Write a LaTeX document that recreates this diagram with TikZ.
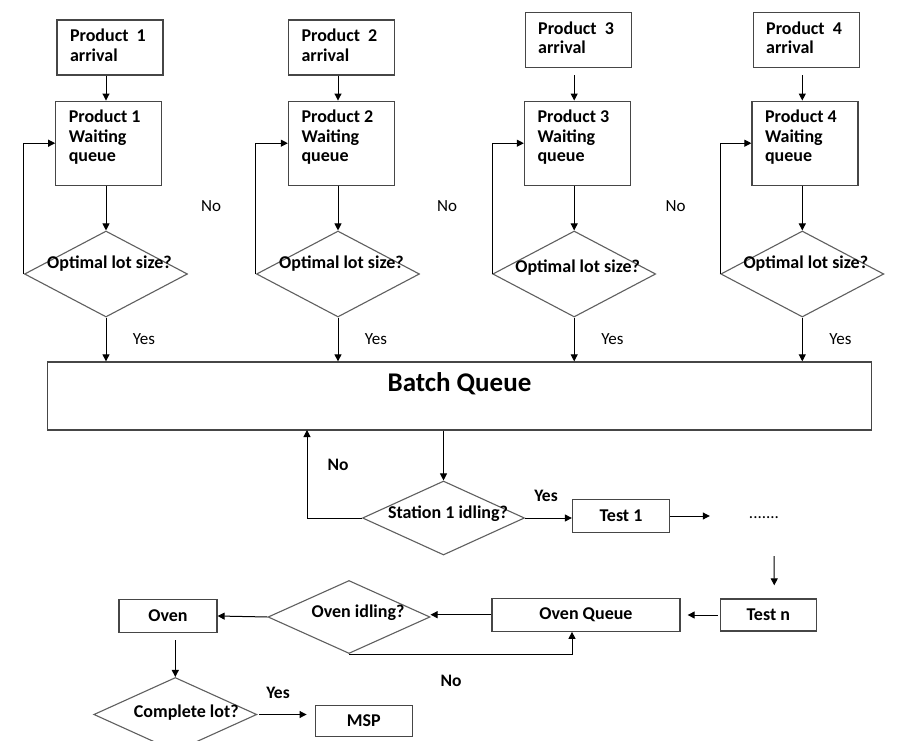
\documentclass[tikz,border=0pt]{standalone}
\usepackage{fontspec}
\setmainfont{Carlito}
\usetikzlibrary{arrows.meta,shapes.geometric}
\definecolor{BoxLine}{RGB}{70,70,70}
\definecolor{DecLine}{RGB}{95,95,95}
\newcommand{\toptext}[2]{\parbox[c][#1][t]{80pt}{\raggedright #2}}

\begin{document}
\begin{tikzpicture}[x=1pt,y=-1pt,
  procbox/.style={draw=BoxLine,line width=1.3pt,font=\bfseries\fontsize{18}{19.5}\selectfont,inner xsep=13pt,inner ysep=9pt},
  smallbox/.style={draw=BoxLine,line width=1.3pt,font=\bfseries\fontsize{18}{20}\selectfont,minimum height=32pt,inner sep=0pt},
  bigbox/.style={draw=BoxLine,line width=1.3pt,minimum width=824pt,minimum height=68pt},
  decision/.style={diamond,draw=DecLine,line width=1.1pt,inner sep=0pt,minimum width=163pt,minimum height=86pt},
  dlab/.style={font=\bfseries\fontsize{18}{20}\selectfont,inner sep=0pt},
  note/.style={font=\fontsize{17}{20}\selectfont,inner sep=0pt},
  bnote/.style={font=\bfseries\fontsize{17.5}{20}\selectfont,inner sep=0pt},
  flow/.style={-{Triangle[length=7pt,width=7pt]},line width=1pt}]
  \useasboundingbox (0,0) rectangle (908,741);
  \clip (0,0) rectangle (908,741);
  \fill[white] (0,0) rectangle (908,741);

  % product columns
  \node[procbox] (arr1) at (110,47.5) {\toptext{37pt}{Product~ 1\\arrival}};
  \node[procbox] (wq1) at (108.8,143.2) {\toptext{66pt}{Product 1\\Waiting\\queue}};
  \node[decision,label={[dlab,xshift=3.5pt,yshift=10pt]center:Optimal lot size?}] (dec1) at (106,274) {};
  \node[procbox] (arr2) at (341.5,47.5) {\toptext{37pt}{Product~ 2\\arrival}};
  \node[procbox] (wq2) at (341.5,143.2) {\toptext{66pt}{Product 2\\Waiting\\queue}};
  \node[decision,label={[dlab,xshift=3.5pt,yshift=10pt]center:Optimal lot size?}] (dec2) at (338,274) {};
  \node[procbox] (arr3) at (578.2,40) {\toptext{37pt}{Product~ 3\\arrival}};
  \node[procbox] (wq3) at (577.5,143.2) {\toptext{66pt}{Product 3\\Waiting\\queue}};
  \node[decision,label={[dlab,xshift=3.5pt,yshift=6pt]center:Optimal lot size?}] (dec3) at (574.2,274) {};
  \node[procbox] (arr4) at (806.2,40) {\toptext{37pt}{Product~ 4\\arrival}};
  \node[procbox] (wq4) at (805,143.2) {\toptext{66pt}{Product 4\\Waiting\\queue}};
  \node[decision,label={[dlab,xshift=3.5pt,yshift=10pt]center:Optimal lot size?}] (dec4) at (802.3,274) {};

  \node[note] (no1) at (211,206) {No};
  \node[note] (no2) at (447,206) {No};
  \node[note] (no3) at (675.5,206) {No};
  \node[note] (yes1) at (144,339) {Yes};
  \node[note] (yes2) at (376,339) {Yes};
  \node[note] (yes3) at (612.5,339) {Yes};
  \node[note] (yes4) at (840.5,339) {Yes};

  \node[bigbox,label={[font=\bfseries\fontsize{27}{30}\selectfont,inner sep=0pt,yshift=12.5pt]center:Batch Queue}] (batch) at (459.5,396) {};

  % stations and oven
  \node[decision,minimum width=162pt,minimum height=74pt,label={[dlab,xshift=4.5pt,yshift=4pt]center:Station 1 idling?}] (stat) at (443.5,518) {};
  \coordinate (noret) at (307,430);
  \node[bnote] (no5) at (338,465) {No};
  \node[bnote] (yes5) at (546,496) {Yes};
  \node[smallbox,minimum width=97pt,minimum height=33pt] (test1) at (621,516) {Test 1};
  \node[inner sep=0pt,minimum width=108pt,font=\fontsize{17}{20}\selectfont] (dots) at (764,518) {.......};
  \node[smallbox,minimum width=96pt] (testn) at (768.3,615) {Test n};
  \node[smallbox,minimum width=188pt,minimum height=33pt] (oq) at (586,614.7) {Oven Queue};
  \node[decision,minimum width=162pt,minimum height=73pt,label={[dlab,xshift=9pt,yshift=4pt]center:Oven idling?}] (oidle) at (349,617) {};
  \node[bnote] (no6) at (451,681) {No};
  \node[smallbox,minimum width=98pt,minimum height=33pt] (oven) at (168,616) {Oven};
  \node[decision,minimum width=163pt,minimum height=74pt,label={[dlab,xshift=11pt,yshift=2pt]center:Complete lot?}] (clot) at (175.3,714.5) {};
  \node[bnote] (yes7) at (278,693) {Yes};
  \node[smallbox,minimum width=97pt,minimum height=31pt] (msp) at (363.7,721) {MSP};

  % connectors
  \draw[flow] (arr1.south -| dec1) -- (wq1.north -| dec1);
  \draw[flow] (arr2.south -| dec2) -- (wq2.north -| dec2);
  \draw[flow,shorten <=7pt] (arr3.south -| dec3) -- (wq3.north -| dec3);
  \draw[flow,shorten <=7pt] (arr4.south -| dec4) -- (wq4.north -| dec4);
  \draw[flow] (wq1.south -| dec1) -- (dec1.north);
  \draw[flow] (wq2.south -| dec2) -- (dec2.north);
  \draw[flow] (wq3.south -| dec3) -- (dec3.north);
  \draw[flow] (wq4.south -| dec4) -- (dec4.north);
  \draw[flow] (dec1.west) |- (wq1.west);
  \draw[flow] (dec2.west) |- (wq2.west);
  \draw[flow] (dec3.west) |- (wq3.west);
  \draw[flow] (dec4.west) |- (wq4.west);
  \draw[flow] (dec1.south) -- (dec1.south |- batch.north);
  \draw[flow] (dec2.south) -- (dec2.south |- batch.north);
  \draw[flow] (dec3.south) -- (dec3.south |- batch.north);
  \draw[flow] (dec4.south) -- (dec4.south |- batch.north);

  \draw[flow] (batch.south -| stat) -- (stat.north);
  \draw[flow] (stat.west) -| (noret);
  \draw[flow] (stat.east) -- (stat.east -| test1.west);
  \draw[flow] (test1.east) -- (test1.east -| dots.west);
  \draw[flow] ([xshift=10pt,yshift=-37pt]dots.south) -- ([xshift=6pt,yshift=13pt]testn.north);
  \draw[flow,shorten <=2pt,shorten >=7pt] (testn.west) -- (testn.west -| oq.east);
  \draw[flow] (oq.west) -- (oq.west -| oidle.east);
  \draw[flow] (oidle.south) -| ([xshift=-14pt]oq.south);
  \draw[flow] (oidle.west) -- (oven.east);
  \draw[flow,shorten <=7pt] (oven.south -| clot) -- (clot.north);
  \draw[flow,shorten <=2pt,shorten >=8pt] (clot.east) -- (clot.east -| msp.west);
\end{tikzpicture}
\end{document}
